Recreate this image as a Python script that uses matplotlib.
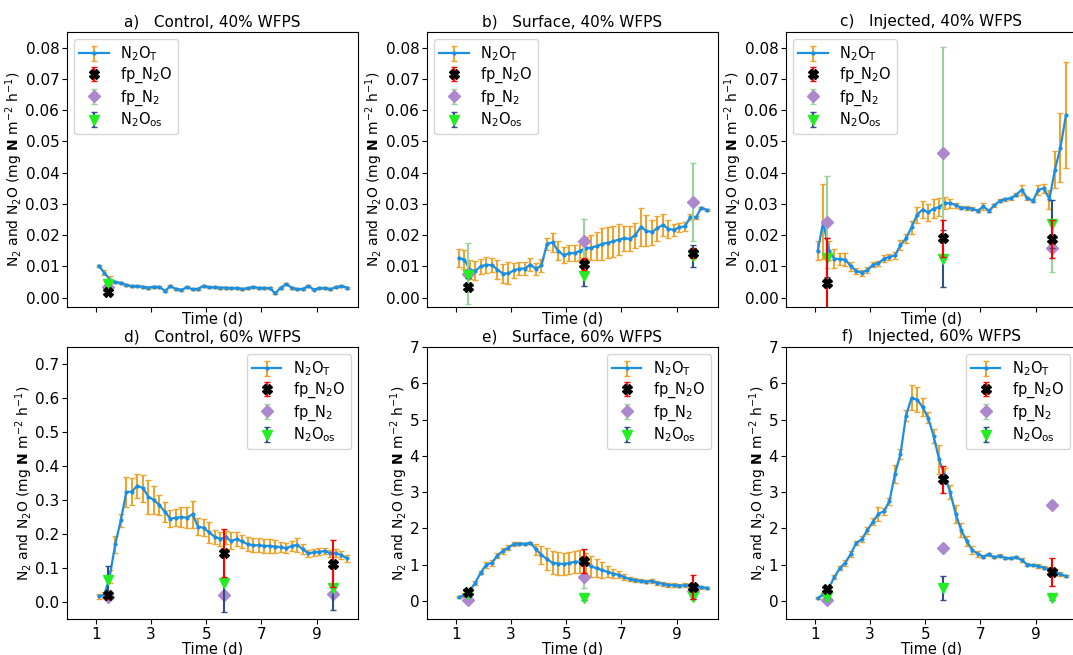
import matplotlib.pyplot as plt

# sampling times (d)
t = [1.1, 1.3, 1.5, 1.7, 1.9, 2.1, 2.3, 2.5, 2.7, 2.9,
     3.1, 3.3, 3.5, 3.7, 3.9, 4.1, 4.3, 4.5, 4.7, 4.9,
     5.1, 5.3, 5.5, 5.7, 5.9, 6.1, 6.3, 6.5, 6.7, 6.9,
     7.1, 7.3, 7.5, 7.7, 7.9, 8.1, 8.3, 8.5, 8.7, 8.9,
     9.1, 9.3, 9.5, 9.7, 9.9, 10.1]
t_fp = [1.45, 5.65, 9.6]

# a) control 40%
n2o_a = [0.0102, 0.0080, 0.0058, 0.0050, 0.0047, 0.0040, 0.0037, 0.0036, 0.0035, 0.0032,
         0.0035, 0.0034, 0.0022, 0.0036, 0.0028, 0.0025, 0.0033, 0.0027, 0.0028, 0.0038,
         0.0033, 0.0033, 0.0032, 0.0032, 0.0030, 0.0031, 0.0028, 0.0030, 0.0034, 0.0031,
         0.0031, 0.0030, 0.0014, 0.0032, 0.0043, 0.0032, 0.0027, 0.0028, 0.0037, 0.0026,
         0.0030, 0.0031, 0.0027, 0.0033, 0.0037, 0.0032]
err_a = [0.0003, 0.0008, 0.0010, 0.0004, 0.0003, 0.0003, 0.0003, 0.0003, 0.0003, 0.0003,
         0.0003, 0.0003, 0.0003, 0.0003, 0.0003, 0.0003, 0.0003, 0.0003, 0.0003, 0.0003,
         0.0003, 0.0003, 0.0003, 0.0003, 0.0003, 0.0003, 0.0003, 0.0003, 0.0003, 0.0003,
         0.0003, 0.0003, 0.0003, 0.0003, 0.0003, 0.0003, 0.0003, 0.0003, 0.0003, 0.0003,
         0.0003, 0.0003, 0.0003, 0.0003, 0.0003, 0.0003]
fpn2o_a, fpn2o_err_a = [0.0018], [0.0005]
fpn2_a, fpn2_err_a = [0.0035], [0.0025]
os_a, os_err_a = [0.0045], [0.0005]

# b) surface 40%
n2o_b = [0.0127, 0.0122, 0.0090, 0.0086, 0.0100, 0.0105, 0.0104, 0.0090, 0.0077, 0.0078,
         0.0087, 0.0093, 0.0093, 0.0106, 0.0092, 0.0103, 0.0172, 0.0177, 0.0150, 0.0136,
         0.0142, 0.0143, 0.0150, 0.0158, 0.0160, 0.0165, 0.0172, 0.0176, 0.0180, 0.0186,
         0.0190, 0.0188, 0.0200, 0.0226, 0.0214, 0.0210, 0.0222, 0.0233, 0.0220, 0.0217,
         0.0225, 0.0228, 0.0258, 0.0257, 0.0288, 0.0280]
err_b = [0.0030, 0.0030, 0.0030, 0.0030, 0.0025, 0.0025, 0.0022, 0.0030, 0.0030, 0.0035,
         0.0025, 0.0022, 0.0020, 0.0020, 0.0018, 0.0020, 0.0020, 0.0030, 0.0030, 0.0025,
         0.0025, 0.0025, 0.0030, 0.0035, 0.0040, 0.0045, 0.0050, 0.0050, 0.0050, 0.0050,
         0.0040, 0.0040, 0.0040, 0.0060, 0.0050, 0.0040, 0.0040, 0.0035, 0.0030, 0.0020,
         0.0015, 0.0015, 0.0010, 0.0005, 0.0003, 0.0003]
fpn2o_b, fpn2o_err_b = [0.0035, 0.0107, 0.0143], [0.0005, 0.0020, 0.0015]
fpn2_b, fpn2_err_b = [0.0077, 0.0180, 0.0307], [0.0098, 0.0073, 0.0125]
os_b, os_err_b = [0.0072, 0.0070, 0.0132], [0.0010, 0.0033, 0.0035]

# c) injected 40%
n2o_c = [0.0150, 0.0243, 0.0150, 0.0125, 0.0123, 0.0122, 0.0100, 0.0085, 0.0080, 0.0088,
         0.0105, 0.0110, 0.0125, 0.0130, 0.0135, 0.0168, 0.0190, 0.0225, 0.0265, 0.0282,
         0.0273, 0.0285, 0.0290, 0.0303, 0.0302, 0.0296, 0.0288, 0.0287, 0.0285, 0.0278,
         0.0292, 0.0278, 0.0295, 0.0310, 0.0315, 0.0318, 0.0330, 0.0345, 0.0318, 0.0310,
         0.0345, 0.0350, 0.0315, 0.0410, 0.0480, 0.0585]
err_c = [0.0030, 0.0120, 0.0030, 0.0030, 0.0020, 0.0020, 0.0015, 0.0010, 0.0010, 0.0010,
         0.0008, 0.0008, 0.0010, 0.0010, 0.0010, 0.0015, 0.0015, 0.0020, 0.0025, 0.0028,
         0.0028, 0.0030, 0.0030, 0.0020, 0.0015, 0.0008, 0.0005, 0.0005, 0.0005, 0.0005,
         0.0010, 0.0005, 0.0005, 0.0005, 0.0005, 0.0005, 0.0005, 0.0015, 0.0005, 0.0005,
         0.0015, 0.0015, 0.0030, 0.0060, 0.0110, 0.0170]
fpn2o_c, fpn2o_err_c = [0.0047, 0.0190, 0.0188], [0.0143, 0.0060, 0.0060]
fpn2_c, fpn2_err_c = [0.0242, 0.0463, 0.0160], [0.0148, 0.0340, 0.0078]
os_c, os_err_c = [0.0128, 0.0125, 0.0235], [0.0062, 0.0090, 0.0077]

# d) control 60%
n2o_d = [0.017, 0.020, 0.075, 0.170, 0.240, 0.323, 0.325, 0.342, 0.335, 0.310,
         0.300, 0.285, 0.265, 0.245, 0.248, 0.250, 0.248, 0.258, 0.222, 0.218,
         0.205, 0.192, 0.186, 0.190, 0.180, 0.185, 0.178, 0.170, 0.167, 0.167,
         0.165, 0.165, 0.163, 0.162, 0.158, 0.165, 0.168, 0.155, 0.143, 0.146,
         0.148, 0.150, 0.143, 0.143, 0.138, 0.128]
err_d = [0.008, 0.008, 0.020, 0.025, 0.020, 0.045, 0.040, 0.035, 0.040, 0.050,
         0.040, 0.030, 0.030, 0.025, 0.025, 0.030, 0.030, 0.040, 0.025, 0.025,
         0.030, 0.020, 0.020, 0.020, 0.025, 0.020, 0.020, 0.020, 0.020, 0.020,
         0.020, 0.020, 0.020, 0.015, 0.015, 0.015, 0.020, 0.015, 0.010, 0.010,
         0.010, 0.010, 0.010, 0.012, 0.012, 0.010]
fpn2o_d, fpn2o_err_d = [0.020, 0.145, 0.113], [0.010, 0.070, 0.070]
fpn2_d, fpn2_err_d = [0.015, 0.022, 0.025], [0.008, 0.005, 0.005]
os_d, os_err_d = [0.065, 0.057, 0.040], [0.040, 0.085, 0.063]

# e) surface 60%
n2o_e = [0.10, 0.16, 0.28, 0.50, 0.78, 1.00, 1.05, 1.25, 1.38, 1.47,
         1.57, 1.58, 1.57, 1.60, 1.42, 1.27, 1.15, 1.05, 1.03, 1.02,
         1.04, 1.08, 1.08, 1.02, 0.95, 0.90, 0.85, 0.80, 0.75, 0.72,
         0.65, 0.60, 0.57, 0.55, 0.53, 0.55, 0.50, 0.47, 0.44, 0.43,
         0.42, 0.43, 0.41, 0.39, 0.37, 0.36]
err_e = [0.03, 0.05, 0.05, 0.05, 0.05, 0.08, 0.08, 0.08, 0.08, 0.08,
         0.05, 0.03, 0.03, 0.03, 0.15, 0.25, 0.30, 0.32, 0.32, 0.30,
         0.30, 0.30, 0.32, 0.30, 0.28, 0.25, 0.22, 0.15, 0.12, 0.10,
         0.08, 0.05, 0.05, 0.04, 0.04, 0.05, 0.05, 0.05, 0.05, 0.05,
         0.05, 0.05, 0.05, 0.05, 0.04, 0.03]
fpn2o_e, fpn2o_err_e = [0.25, 1.10, 0.38], [0.05, 0.33, 0.32]
fpn2_e, fpn2_err_e = [0.03, 0.65, 0.28], [0.03, 0.30, 0.05]
os_e, os_err_e = [0.18, 0.08, 0.12], [0.05, 0.05, 0.08]

# f) injected 60%
n2o_f = [0.08, 0.18, 0.35, 0.65, 0.90, 1.05, 1.30, 1.60, 1.70, 1.95,
         2.18, 2.40, 2.47, 2.75, 3.50, 4.05, 5.10, 5.60, 5.55, 5.35,
         5.05, 4.55, 3.90, 3.45, 3.00, 2.40, 1.95, 1.65, 1.40, 1.30,
         1.22, 1.28, 1.20, 1.25, 1.18, 1.18, 1.20, 1.12, 1.00, 0.98,
         0.96, 0.92, 0.86, 0.80, 0.74, 0.68]
err_f = [0.03, 0.05, 0.05, 0.05, 0.05, 0.08, 0.08, 0.05, 0.08, 0.10,
         0.10, 0.20, 0.10, 0.10, 0.25, 0.15, 0.15, 0.35, 0.35, 0.25,
         0.15, 0.20, 0.40, 0.20, 0.20, 0.25, 0.20, 0.15, 0.10, 0.08,
         0.05, 0.05, 0.03, 0.03, 0.03, 0.03, 0.03, 0.05, 0.05, 0.03,
         0.05, 0.05, 0.08, 0.08, 0.05, 0.03]
fpn2o_f, fpn2o_err_f = [0.33, 3.35, 0.80], [0.05, 0.38, 0.38]
fpn2_f, fpn2_err_f = [0.02, 1.45, 2.65], [0.03, 0.03, 0.10]
os_f, os_err_f = [0.12, 0.35, 0.08], [0.05, 0.33, 0.05]

titles = ["a)   Control, 40% WFPS", "b)   Surface, 40% WFPS", "c)   Injected, 40% WFPS",
          "d)   Control, 60% WFPS", "e)   Surface, 60% WFPS", "f)   Injected, 60% WFPS"]

W, H = 1073, 655
fig = plt.figure(figsize=(W / 100, H / 100), dpi=100)

lefts = [67, 427, 786]
aw = 291
rows = [(32, 307), (347, 619)]

panels = [
    (n2o_a, err_a, fpn2o_a, fpn2o_err_a, fpn2_a, fpn2_err_a, os_a, os_err_a),
    (n2o_b, err_b, fpn2o_b, fpn2o_err_b, fpn2_b, fpn2_err_b, os_b, os_err_b),
    (n2o_c, err_c, fpn2o_c, fpn2o_err_c, fpn2_c, fpn2_err_c, os_c, os_err_c),
    (n2o_d, err_d, fpn2o_d, fpn2o_err_d, fpn2_d, fpn2_err_d, os_d, os_err_d),
    (n2o_e, err_e, fpn2o_e, fpn2o_err_e, fpn2_e, fpn2_err_e, os_e, os_err_e),
    (n2o_f, err_f, fpn2o_f, fpn2o_err_f, fpn2_f, fpn2_err_f, os_f, os_err_f),
]

ylab = r"N$_2$ and N$_2$O (mg $\mathbf{N}$ m$^{-2}$ h$^{-1}$)"

for k, p in enumerate(panels):
    row, col = divmod(k, 3)
    top, bot = rows[row]
    ax = fig.add_axes([lefts[col] / W, (H - bot) / H, aw / W, (bot - top) / H])
    y, ye, a1, a1e, a2, a2e, a3, a3e = p
    tf = t_fp[:len(a1)]

    ax.errorbar(t, y, yerr=ye, color="#1c8fe0", marker=".", ms=4, lw=1.6,
                ecolor="#eea52f", elinewidth=1.5, capsize=2, label=r"N$_2$O$_\mathrm{T}$", zorder=2)
    ax.errorbar(tf, a1, yerr=a1e, fmt="X", color="black", ms=6.5,
                ecolor="red", elinewidth=1.5, capsize=2, label="fp_N$_2$O", zorder=5)
    ax.errorbar(tf, a2, yerr=a2e, fmt="D", color="#ad88cc", ms=6.5,
                ecolor="#9ad49a", elinewidth=1.5, capsize=2, label="fp_N$_2$", zorder=3)
    ax.errorbar(tf, a3, yerr=a3e, fmt="v", color="#22ee22", ms=7.5,
                ecolor="#2f4f86", elinewidth=1.5, capsize=2, label=r"N$_2$O$_\mathrm{os}$", zorder=4)

    ax.set_xlim(-0.05, 10.5)
    ax.set_xticks([1, 3, 5, 7, 9])
    leg_kw = dict(fontsize=10.5, labelspacing=0.2, borderpad=0.35, handletextpad=0.8)
    if row == 0:
        ax.set_ylim(-0.003, 0.085)
        ax.set_yticks([0, 0.01, 0.02, 0.03, 0.04, 0.05, 0.06, 0.07, 0.08])
        ax.tick_params(labelbottom=False)
        ax.legend(loc="upper left", **leg_kw)
    else:
        if col == 0:
            ax.set_ylim(-0.05, 0.75)
            ax.set_yticks([0, 0.1, 0.2, 0.3, 0.4, 0.5, 0.6, 0.7])
        else:
            ax.set_ylim(-0.5, 7)
            ax.set_yticks([0, 1, 2, 3, 4, 5, 6, 7])
        ax.legend(loc="upper right", **leg_kw)
    ax.tick_params(labelsize=11, pad=2)
    ax.set_title(titles[k], fontsize=11, pad=4)
    ax.set_xlabel("Time (d)", fontsize=10.5, labelpad=0)
    ax.set_ylabel(ylab, fontsize=10, labelpad=0)

fig.savefig("out.png", dpi=100)
